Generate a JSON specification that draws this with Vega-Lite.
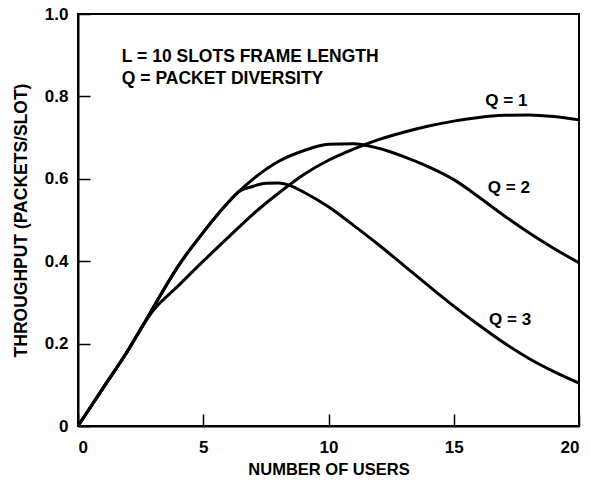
{
  "$schema": "https://vega.github.io/schema/vega-lite/v6.json",
  "width": 501,
  "height": 412,
  "autosize": {"type": "none"},
  "padding": {"left": 78, "top": 14, "right": 12, "bottom": 54},
  "background": "white",
  "config": {
    "view": {"stroke": "black", "strokeWidth": 2},
    "font": "Liberation Sans",
    "axis": {
      "domainColor": "black",
      "domainWidth": 2,
      "tickColor": "black",
      "tickWidth": 1.5,
      "tickSize": -12,
      "grid": false,
      "labelFont": "Liberation Sans",
      "labelFontWeight": "bold",
      "labelFontSize": 17,
      "labelColor": "black",
      "titleFont": "Liberation Sans",
      "titleFontWeight": "bold",
      "titleFontSize": 16.5,
      "titleColor": "black"
    }
  },
  "datasets": {
    "curves": [
      {"users": 0, "throughput": 0, "series": "Q1"},
      {"users": 1, "throughput": 0.092, "series": "Q1"},
      {"users": 2, "throughput": 0.184, "series": "Q1"},
      {"users": 2.6, "throughput": 0.245, "series": "Q1"},
      {"users": 3, "throughput": 0.28, "series": "Q1"},
      {"users": 4, "throughput": 0.34, "series": "Q1"},
      {"users": 5, "throughput": 0.4, "series": "Q1"},
      {"users": 6, "throughput": 0.458, "series": "Q1"},
      {"users": 7, "throughput": 0.515, "series": "Q1"},
      {"users": 8, "throughput": 0.565, "series": "Q1"},
      {"users": 9, "throughput": 0.61, "series": "Q1"},
      {"users": 10, "throughput": 0.645, "series": "Q1"},
      {"users": 11, "throughput": 0.672, "series": "Q1"},
      {"users": 12, "throughput": 0.695, "series": "Q1"},
      {"users": 13, "throughput": 0.713, "series": "Q1"},
      {"users": 14, "throughput": 0.728, "series": "Q1"},
      {"users": 15, "throughput": 0.74, "series": "Q1"},
      {"users": 16, "throughput": 0.749, "series": "Q1"},
      {"users": 17, "throughput": 0.754, "series": "Q1"},
      {"users": 18, "throughput": 0.755, "series": "Q1"},
      {"users": 19, "throughput": 0.751, "series": "Q1"},
      {"users": 20, "throughput": 0.743, "series": "Q1"},

      {"users": 0, "throughput": 0, "series": "Q2"},
      {"users": 1, "throughput": 0.092, "series": "Q2"},
      {"users": 2, "throughput": 0.184, "series": "Q2"},
      {"users": 2.6, "throughput": 0.245, "series": "Q2"},
      {"users": 3, "throughput": 0.287, "series": "Q2"},
      {"users": 4, "throughput": 0.388, "series": "Q2"},
      {"users": 5, "throughput": 0.47, "series": "Q2"},
      {"users": 6, "throughput": 0.543, "series": "Q2"},
      {"users": 6.4, "throughput": 0.568, "series": "Q2"},
      {"users": 7, "throughput": 0.6, "series": "Q2"},
      {"users": 8, "throughput": 0.642, "series": "Q2"},
      {"users": 9, "throughput": 0.668, "series": "Q2"},
      {"users": 10, "throughput": 0.684, "series": "Q2"},
      {"users": 11, "throughput": 0.685, "series": "Q2"},
      {"users": 12, "throughput": 0.674, "series": "Q2"},
      {"users": 13, "throughput": 0.654, "series": "Q2"},
      {"users": 14, "throughput": 0.629, "series": "Q2"},
      {"users": 15, "throughput": 0.598, "series": "Q2"},
      {"users": 16, "throughput": 0.556, "series": "Q2"},
      {"users": 17, "throughput": 0.511, "series": "Q2"},
      {"users": 18, "throughput": 0.469, "series": "Q2"},
      {"users": 19, "throughput": 0.431, "series": "Q2"},
      {"users": 20, "throughput": 0.396, "series": "Q2"},

      {"users": 0, "throughput": 0, "series": "Q3"},
      {"users": 1, "throughput": 0.092, "series": "Q3"},
      {"users": 2, "throughput": 0.184, "series": "Q3"},
      {"users": 2.6, "throughput": 0.245, "series": "Q3"},
      {"users": 3, "throughput": 0.287, "series": "Q3"},
      {"users": 4, "throughput": 0.388, "series": "Q3"},
      {"users": 5, "throughput": 0.47, "series": "Q3"},
      {"users": 6, "throughput": 0.543, "series": "Q3"},
      {"users": 6.4, "throughput": 0.568, "series": "Q3"},
      {"users": 7, "throughput": 0.582, "series": "Q3"},
      {"users": 7.5, "throughput": 0.589, "series": "Q3"},
      {"users": 8, "throughput": 0.59, "series": "Q3"},
      {"users": 8.5, "throughput": 0.583, "series": "Q3"},
      {"users": 9, "throughput": 0.568, "series": "Q3"},
      {"users": 10, "throughput": 0.532, "series": "Q3"},
      {"users": 11, "throughput": 0.487, "series": "Q3"},
      {"users": 12, "throughput": 0.44, "series": "Q3"},
      {"users": 13, "throughput": 0.39, "series": "Q3"},
      {"users": 14, "throughput": 0.34, "series": "Q3"},
      {"users": 15, "throughput": 0.291, "series": "Q3"},
      {"users": 16, "throughput": 0.245, "series": "Q3"},
      {"users": 17, "throughput": 0.202, "series": "Q3"},
      {"users": 18, "throughput": 0.164, "series": "Q3"},
      {"users": 19, "throughput": 0.132, "series": "Q3"},
      {"users": 20, "throughput": 0.104, "series": "Q3"}
    ],
    "labels": [
      {"users": 17.1, "throughput": 0.79, "text": "Q = 1"},
      {"users": 17.2, "throughput": 0.578, "text": "Q = 2"},
      {"users": 17.25, "throughput": 0.257, "text": "Q = 3"}
    ],
    "notes": [
      {"users": 1.75, "throughput": 0.895, "text": "L = 10 SLOTS FRAME LENGTH"},
      {"users": 1.75, "throughput": 0.843, "text": "Q = PACKET DIVERSITY"}
    ]
  },
  "layer": [
    {
      "data": {"name": "curves"},
      "mark": {"type": "line", "interpolate": "monotone", "color": "black", "strokeWidth": 3},
      "encoding": {
        "x": {
          "field": "users", "type": "quantitative",
          "scale": {"domain": [0, 20], "nice": false},
          "axis": {"values": [0, 5, 10, 15, 20], "title": "NUMBER OF USERS", "labelPadding": 25, "titlePadding": 6}
        },
        "y": {
          "field": "throughput", "type": "quantitative",
          "scale": {"domain": [0, 1], "nice": false},
          "axis": {
            "values": [0, 0.2, 0.4, 0.6, 0.8, 1.0],
            "labelExpr": "datum.value == 0 ? '0' : format(datum.value, '.1f')",
            "title": "THROUGHPUT (PACKETS/SLOT)",
            "titleFontSize": 17.5,
            "labelPadding": 22,
            "titlePadding": 14
          }
        },
        "detail": {"field": "series", "type": "nominal"}
      }
    },
    {
      "data": {"name": "labels"},
      "mark": {"type": "text", "font": "Liberation Sans", "fontWeight": "bold", "fontSize": 17, "color": "black", "align": "center", "baseline": "middle"},
      "encoding": {
        "x": {"field": "users", "type": "quantitative"},
        "y": {"field": "throughput", "type": "quantitative"},
        "text": {"field": "text"}
      }
    },
    {
      "data": {"name": "notes"},
      "mark": {"type": "text", "font": "Liberation Sans", "fontWeight": "bold", "fontSize": 17.5, "color": "black", "align": "left", "baseline": "middle"},
      "encoding": {
        "x": {"field": "users", "type": "quantitative"},
        "y": {"field": "throughput", "type": "quantitative"},
        "text": {"field": "text"}
      }
    }
  ]
}
